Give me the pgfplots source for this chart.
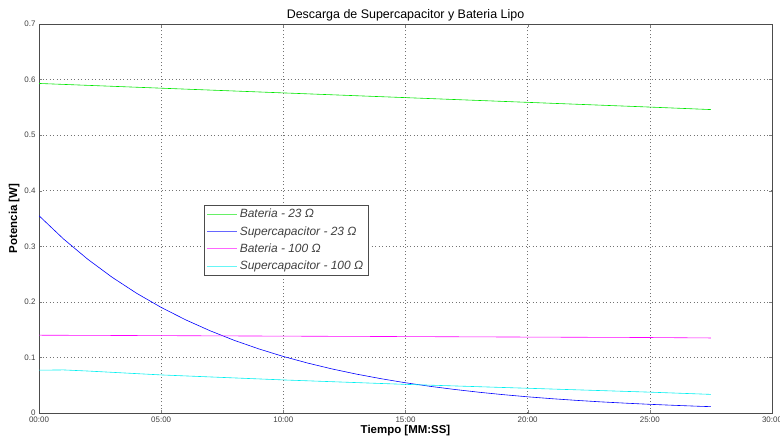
\documentclass[border=0pt]{standalone}
\usepackage{fontspec}
\setmainfont{Liberation Sans}
\usepackage{pgfplots}
\pgfplotsset{compat=1.18}

\definecolor{mgreen}{RGB}{0,230,0}
\definecolor{mblue}{RGB}{0,0,255}
\definecolor{mmag}{RGB}{255,0,255}
\definecolor{mcyan}{RGB}{0,240,240}

\begin{document}
\begin{tikzpicture}
\begin{axis}[
    name=ax,
    scale only axis,
    width=733bp, height=389bp,
    xmin=0, xmax=30, ymin=0, ymax=0.7,
    xtick={0,5,...,30},
    xticklabels={00:00,05:00,10:00,15:00,20:00,25:00,30:00},
    ytick={0,0.1,...,0.7},
    yticklabel style={/pgf/number format/fixed},
    /pgf/number format/assume math mode=true,
    tick label style={font=\fontsize{8}{9}\selectfont, color=black!75},
    tick align=inside,
    major tick length=3bp,
    xmajorgrids, ymajorgrids,
    grid style={black!55, line width=0.6pt, dash pattern=on 1bp off 2.5bp},
    axis line style={black!70, line width=0.6pt},
    title={Descarga de Supercapacitor y Bateria Lipo},
    title style={font=\fontsize{12.5}{14}\selectfont, yshift=-7bp},
    xlabel={\textbf{Tiempo [MM:SS]}},
    ylabel={\textbf{Potencia [W]}},
    label style={font=\fontsize{11.5}{13}\selectfont},
    xlabel style={yshift=4bp},
    ylabel style={yshift=-2bp},
    legend style={at={(0.225,0.535)}, anchor=north west,
        font=\fontsize{12}{13}\selectfont\itshape, draw=black!70,
        row sep=3.2bp, inner xsep=2.5bp, inner ysep=2bp, text=black!75},
    legend cell align=left,
    legend image code/.code={\draw[#1, line width=1.2pt, opacity=0.6] (0bp,0bp) -- (30bp,0bp);},
    every axis plot/.append style={line width=0.6pt},
]
\addplot[mgreen] coordinates {
    (0,0.593) (5,0.5845) (10,0.576) (15,0.5675) (20,0.559) (25,0.5505) (27.5,0.546)
};
\addlegendentry{Bateria - 23 Ω}
\addplot[mblue] coordinates {
    (0,0.355) (1,0.3133) (2,0.2765) (3,0.2440) (4,0.2153) (5,0.1900)
    (6,0.1677) (7,0.1480) (8,0.1306) (9,0.1153) (10,0.1017) (11,0.0898)
    (12,0.0792) (13,0.0699) (14,0.0617) (15,0.0544) (16,0.0480) (17,0.0424)
    (18,0.0374) (19,0.0330) (20,0.0291) (21,0.0257) (22,0.0227) (23,0.0200)
    (24,0.0177) (25,0.0156) (26,0.0138) (27,0.0121) (27.5,0.0114)
};
\addlegendentry{Supercapacitor - 23 Ω}
\addplot[mmag] coordinates {
    (0,0.140) (5,0.1392) (10,0.1383) (15,0.1375) (20,0.1366) (25,0.1358) (27.5,0.135)
};
\addlegendentry{Bateria - 100 Ω}
\addplot[mcyan] coordinates {
    (0,0.077) (1,0.0775) (2,0.0755) (5,0.0685) (10,0.0595) (15,0.0515)
    (20,0.0445) (25,0.0375) (27.5,0.0335)
};
\addlegendentry{Supercapacitor - 100 Ω}
\end{axis}
\pgfresetboundingbox
\path ([shift={(-39bp,-30bp)}]ax.south west) rectangle ([shift={(8bp,24bp)}]ax.north east);
\end{tikzpicture}
\end{document}
